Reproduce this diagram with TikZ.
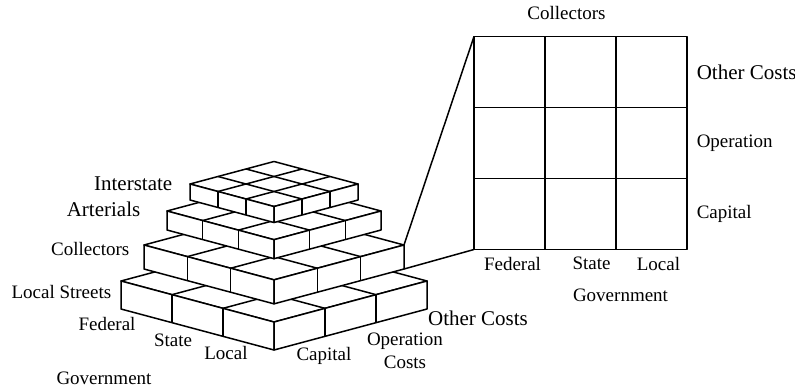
\documentclass[tikz,border=0pt]{standalone}
\usepackage{fontspec}
\setmainfont{Liberation Serif}
\usetikzlibrary{calc, positioning, matrix}

\begin{document}
\begin{tikzpicture}[x=1pt, y=-1pt, line width=1.5pt, line join=round,
    cell/.style={draw, minimum size=71pt, outer sep=0pt, inner sep=0pt},
    lbl/.style={inner sep=0pt, font=\fontsize{19}{23}\selectfont},
    big/.style={inner sep=0pt, font=\fontsize{21}{25}\selectfont},
  ]
\useasboundingbox (0,0) rectangle (795,391);

% layers, bottom first, so the upper ones hide the lower tops
\foreach \w/\t/\b [count=\i] in {153/281/309, 130/245/269, 107/211/230, 84/184/200}{
  \pgfmathsetmacro{\rise}{0.268*\w}
  \coordinate (L\i) at (274-\w,\t);
  \coordinate (F\i) at (274,\t+\rise);
  \coordinate (R\i) at (274+\w,\t);
  \coordinate (K\i) at (274,\t-\rise);
  \coordinate (LB\i) at (274-\w,\b);
  \coordinate (FB\i) at (274,\b+\rise);
  \coordinate (RB\i) at (274+\w,\b);
  \filldraw[fill=white] (L\i) -- (F\i) -- (R\i) -- (K\i) -- cycle;
  \filldraw[fill=white] (L\i) -- (F\i) -- (FB\i) -- (LB\i) -- cycle;
  \filldraw[fill=white] (F\i) -- (R\i) -- (RB\i) -- (FB\i) -- cycle;
  \foreach \fr in {1/3, 2/3}{
    \draw ($(L\i)!\fr!(F\i)$) -- ($(K\i)!\fr!(R\i)$);
    \draw ($(F\i)!\fr!(R\i)$) -- ($(L\i)!\fr!(K\i)$);
    \draw ($(L\i)!\fr!(F\i)$) -- ($(LB\i)!\fr!(FB\i)$);
    \draw ($(F\i)!\fr!(R\i)$) -- ($(FB\i)!\fr!(RB\i)$);
  }
}

% layer names
\node[big, left=17pt of L4] (interstate) {Interstate};
\node[big, left=26pt of L3, yshift=2pt] (arterials) {Arterials};
\node[lbl, left=14pt of L2, yshift=-4pt] (collectors) {Collectors};
\node[lbl, left=9pt of L1, yshift=-11pt] (streets) {Local Streets};

% axes of the pyramid
\node[lbl] (federal) at (107,324) {Federal};
\node[lbl] (state) at (173,340) {State};
\node[lbl] (local) at (226,353) {Local};
\node[lbl] (gov) at (104,378) {Government};
\node[lbl] (capital) at (324,356) {Capital};
\node[lbl, align=center] (opcosts) at (405,351) {Operation\\Costs};
\node[big] (other) at (478,318) {Other Costs};

% one slice
\matrix (G) [matrix of nodes, nodes in empty cells, nodes={cell},
  column sep=-\pgflinewidth, row sep=-\pgflinewidth, inner sep=0pt]
  at (580.5,143) {&&\\&&\\&&\\};

\node[lbl, above=16pt of G-1-2, xshift=-14pt] (gtop) {Collectors};
\node[big, right=9pt of G-1-3] (gother) {Other Costs};
\node[lbl, right=9pt of G-2-3] (gop) {Operation};
\node[lbl, right=9pt of G-3-3] (gcap) {Capital};
\node[lbl, below=7pt of G-3-1, xshift=3pt] (gfed) {Federal};
\node[lbl, below=7pt of G-3-2, xshift=11pt] (gstate) {State};
\node[lbl, below=7pt of G-3-3, xshift=7pt] (glocal) {Local};
\node[lbl, below=17pt of gstate, xshift=29pt] (ggov) {Government};

\draw (R2) -- (G-1-1.north west);
\draw (RB2) -- (G-3-1.south west);
\end{tikzpicture}
\end{document}
